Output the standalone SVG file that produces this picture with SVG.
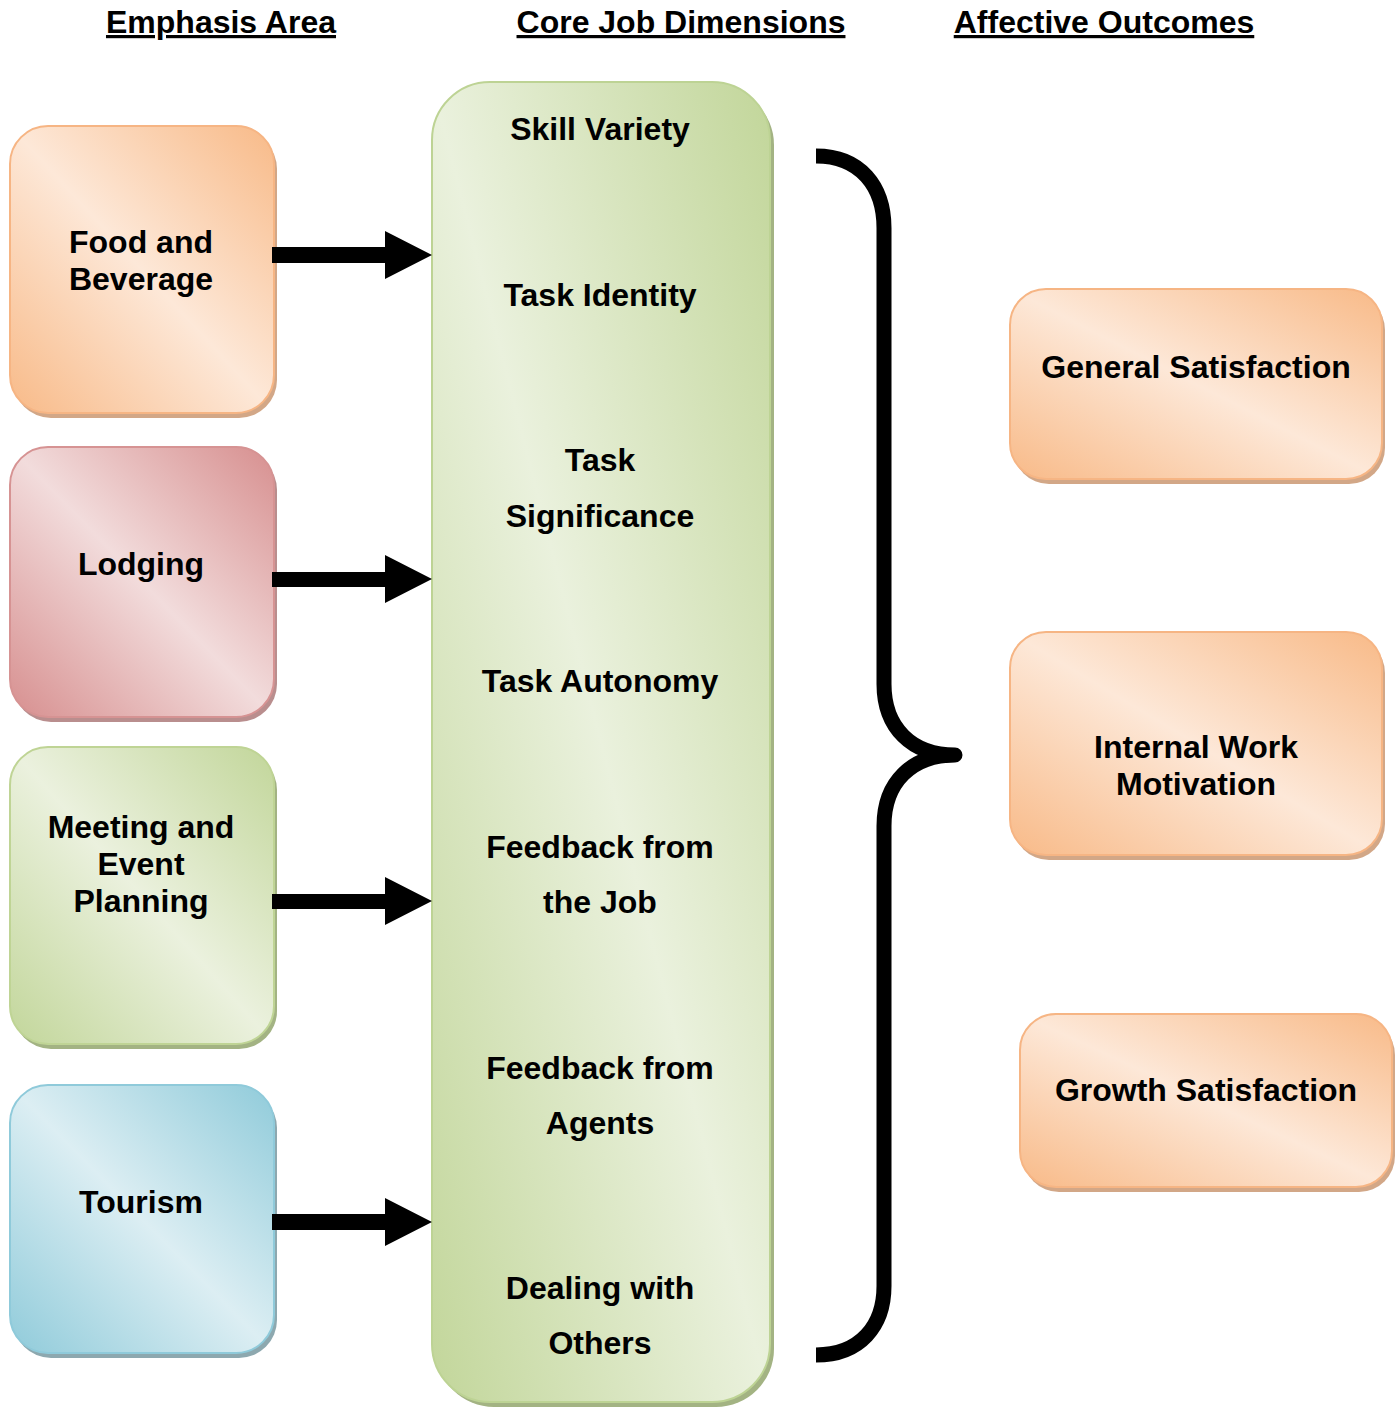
<svg xmlns="http://www.w3.org/2000/svg" width="1400" height="1407" viewBox="0 0 1400 1407">
<defs>
<linearGradient id="gOrange" x1="1" y1="0" x2="0" y2="1">
<stop offset="0" stop-color="#F8BA88"/><stop offset="0.5" stop-color="#FDE8D8"/><stop offset="1" stop-color="#F8BA88"/>
</linearGradient>
<linearGradient id="gRed" x1="1" y1="0" x2="0" y2="1">
<stop offset="0" stop-color="#D78F8F"/><stop offset="0.5" stop-color="#F2DCDC"/><stop offset="1" stop-color="#D78F8F"/>
</linearGradient>
<linearGradient id="gGreen" x1="1" y1="0" x2="0" y2="1">
<stop offset="0" stop-color="#C2D69A"/><stop offset="0.5" stop-color="#EBF1DE"/><stop offset="1" stop-color="#C2D69A"/>
</linearGradient>
<linearGradient id="gBlue" x1="1" y1="0" x2="0" y2="1">
<stop offset="0" stop-color="#90CBDA"/><stop offset="0.5" stop-color="#DCEEF3"/><stop offset="1" stop-color="#90CBDA"/>
</linearGradient>
<linearGradient id="gCenter" x1="1" y1="0" x2="0" y2="1">
<stop offset="0" stop-color="#C2D69A"/><stop offset="0.5" stop-color="#EAF1DD"/><stop offset="1" stop-color="#C2D69A"/>
</linearGradient>
</defs>
<style>
text{font-family:"Liberation Sans",Arial,sans-serif;font-weight:bold;fill:#000;text-anchor:middle}
.hdr{font-size:32px;text-decoration:underline}
.lbl{font-size:32px}
.shO{fill:#D2A787}.shR{fill:#B98E8E}.shG{fill:#A3B383}.shB{fill:#8DA8AF}
.o{fill:url(#gOrange);stroke:#F6B584;stroke-width:2}
.r{fill:url(#gRed);stroke:#D69393;stroke-width:2}
.g{fill:url(#gGreen);stroke:#BFD495;stroke-width:2}
.b{fill:url(#gBlue);stroke:#8FCADA;stroke-width:2}
.c{fill:url(#gCenter);stroke:#BDD394;stroke-width:2}
.arrow{fill:#000}
.brace{fill:none;stroke:#000;stroke-width:15;stroke-linecap:butt;stroke-linejoin:round}
</style>
<rect width="1400" height="1407" fill="#fff"/>

<g id="headers">
<text class="hdr" x="221" y="33">Emphasis Area</text>
<text class="hdr" x="681" y="33">Core Job Dimensions</text>
<text class="hdr" x="1104" y="33">Affective Outcomes</text>
</g>

<g id="food-beverage">
<rect class="shO" x="13" y="131" width="264" height="287" rx="38"/>
<rect class="o" x="10" y="126" width="264" height="287" rx="38"/>
<text class="lbl" x="141" y="253">Food and</text>
<text class="lbl" x="141" y="290">Beverage</text>
</g>

<g id="lodging">
<rect class="shR" x="13" y="452" width="264" height="270" rx="38"/>
<rect class="r" x="10" y="447" width="264" height="270" rx="38"/>
<text class="lbl" x="141" y="575">Lodging</text>
</g>

<g id="meeting-event">
<rect class="shG" x="13" y="752" width="264" height="297" rx="38"/>
<rect class="g" x="10" y="747" width="264" height="297" rx="38"/>
<text class="lbl" x="141" y="838">Meeting and</text>
<text class="lbl" x="141" y="875">Event</text>
<text class="lbl" x="141" y="912">Planning</text>
</g>

<g id="tourism">
<rect class="shB" x="13" y="1090" width="264" height="268" rx="38"/>
<rect class="b" x="10" y="1085" width="264" height="268" rx="38"/>
<text class="lbl" x="141" y="1213">Tourism</text>
</g>

<g id="core-job-dimensions">
<rect class="shG" x="436" y="87" width="338" height="1320" rx="58"/>
<rect class="c" x="432" y="82" width="338" height="1320" rx="58"/>
<text class="lbl" x="600" y="140">Skill Variety</text>
<text class="lbl" x="600" y="306">Task Identity</text>
<text class="lbl" x="600" y="471">Task</text>
<text class="lbl" x="600" y="527">Significance</text>
<text class="lbl" x="600" y="692">Task Autonomy</text>
<text class="lbl" x="600" y="858">Feedback from</text>
<text class="lbl" x="600" y="913">the Job</text>
<text class="lbl" x="600" y="1079">Feedback from</text>
<text class="lbl" x="600" y="1134">Agents</text>
<text class="lbl" x="600" y="1299">Dealing with</text>
<text class="lbl" x="600" y="1354">Others</text>
</g>

<g id="general-satisfaction">
<rect class="shO" x="1013" y="294" width="372" height="190" rx="36"/>
<rect class="o" x="1010" y="289" width="372" height="190" rx="36"/>
<text class="lbl" x="1196" y="378">General Satisfaction</text>
</g>

<g id="internal-work-motivation">
<rect class="shO" x="1013" y="637" width="372" height="223" rx="36"/>
<rect class="o" x="1010" y="632" width="372" height="223" rx="36"/>
<text class="lbl" x="1196" y="758">Internal Work</text>
<text class="lbl" x="1196" y="795">Motivation</text>
</g>

<g id="growth-satisfaction">
<rect class="shO" x="1023" y="1019" width="372" height="173" rx="36"/>
<rect class="o" x="1020" y="1014" width="372" height="173" rx="36"/>
<text class="lbl" x="1206" y="1101">Growth Satisfaction</text>
</g>

<g id="connectors">
<polygon class="arrow" points="272,247 385,247 385,231 432,255 385,279 385,263 272,263"/>
<polygon class="arrow" points="272,572 385,572 385,555 432,579 385,603 385,587 272,587"/>
<polygon class="arrow" points="272,894 385,894 385,877 432,901 385,925 385,909 272,909"/>
<polygon class="arrow" points="272,1214 385,1214 385,1198 432,1222 385,1246 385,1230 272,1230"/>
<path class="brace" d="M816,156 C860,156 884,186 884,228 L884,684 C884,728 912,755 955,755 C912,755 884,782 884,826 L884,1286 C884,1326 860,1355 816,1355"/>
</g>
</svg>
